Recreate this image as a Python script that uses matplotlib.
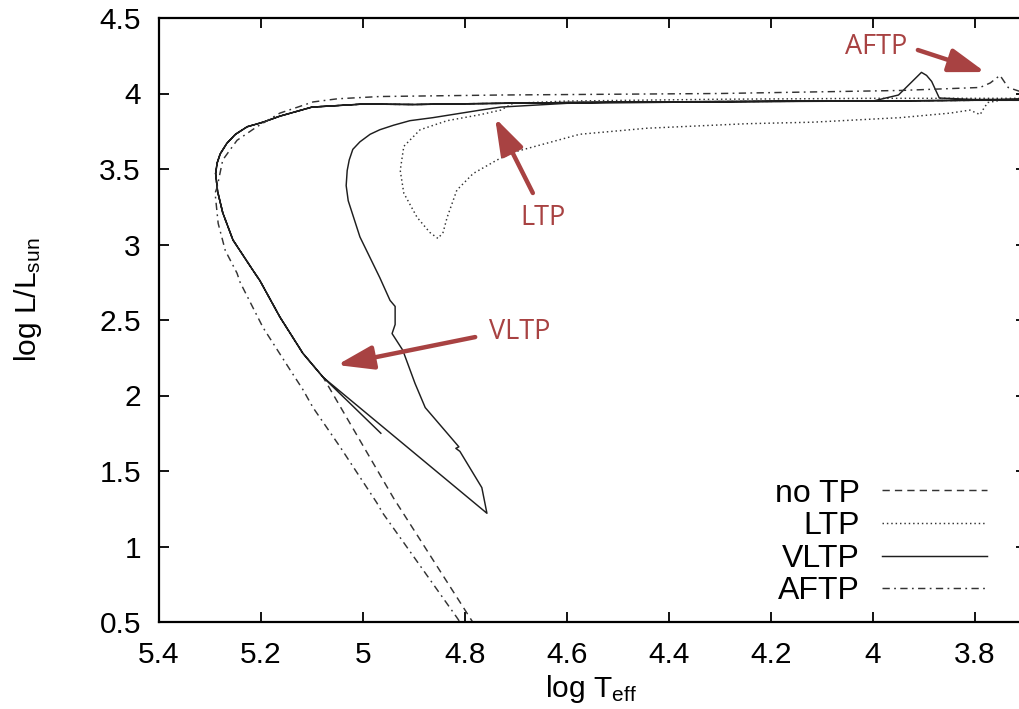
import matplotlib
matplotlib.use("Agg")
import matplotlib.pyplot as plt

plt.rcParams['font.family'] = ['Liberation Sans', 'DejaVu Sans']
plt.rcParams['mathtext.fontset'] = 'custom'
plt.rcParams['mathtext.rm'] = 'Liberation Sans'
plt.rcParams['mathtext.it'] = 'Liberation Sans:italic'

# ---------------- data (log Teff, log L/Lsun) ----------------
# shared path from AGB to the hot turn and down the cooling track
horiz_T = [3.712, 3.80, 4.00, 4.20, 4.40, 4.60, 4.80, 4.90, 5.00, 5.10, 5.163, 5.196, 5.227, 5.250, 5.267,
           5.280, 5.286, 5.289, 5.285, 5.275, 5.255, 5.216, 5.202, 5.163, 5.118, 5.078]
horiz_L = [3.955, 3.955, 3.950, 3.948, 3.945, 3.940, 3.932, 3.927, 3.930, 3.910, 3.850, 3.810, 3.780, 3.730, 3.670,
           3.600, 3.540, 3.470, 3.350, 3.210, 3.030, 2.830, 2.760, 2.520, 2.280, 2.120]

# VLTP loop: from the junction down-right, back up, and back to the AGB
vltp_loop_T = [5.078, 4.757, 4.767, 4.810, 4.818, 4.812, 4.878, 4.898, 4.922, 4.943, 4.937, 4.937, 4.947,
               4.967, 5.006, 5.029, 5.033, 5.031, 5.027, 5.020, 5.006, 4.986, 4.967, 4.940, 4.908,
               4.863, 4.770, 4.730, 4.600, 4.300, 4.000, 3.950, 3.905, 3.895, 3.885, 3.870, 3.800, 3.712]
vltp_loop_L = [2.120, 1.220, 1.390, 1.630, 1.650, 1.660, 1.920, 2.080, 2.300, 2.410, 2.470, 2.590, 2.630,
               2.780, 3.050, 3.290, 3.390, 3.490, 3.560, 3.630, 3.680, 3.730, 3.760, 3.790, 3.820,
               3.840, 3.890, 3.910, 3.935, 3.945, 3.950, 3.990, 4.140, 4.120, 4.080, 3.970, 3.960, 3.962]
vltp_tail_T = [5.078, 4.965]
vltp_tail_L = [2.120, 1.750]

# no thermal pulse: continues straight down the cooling track
notp_tail_T = [5.078, 4.940, 4.785, 4.765]
notp_tail_L = [2.120, 1.320, 0.500, 0.400]

# LTP loop
ltp_T = [3.712, 4.000, 4.300, 4.600, 4.706, 4.730, 4.770, 4.835, 4.888, 4.920, 4.927, 4.920, 4.894,
         4.869, 4.853, 4.843, 4.835, 4.816, 4.784, 4.737, 4.706, 4.575, 4.443, 4.378, 4.247, 4.118,
         3.947, 3.849, 3.810, 3.790, 3.783, 3.775, 3.750, 3.712]
ltp_L = [3.968, 3.968, 3.962, 3.950, 3.935, 3.890, 3.860, 3.820, 3.760, 3.650, 3.490, 3.340, 3.180,
         3.080, 3.040, 3.080, 3.180, 3.360, 3.470, 3.560, 3.610, 3.730, 3.770, 3.780, 3.800, 3.810,
         3.840, 3.870, 3.890, 3.860, 3.900, 3.940, 3.955, 3.962]

# AFTP
aftp_T = [3.700, 3.735, 3.751, 3.770, 3.790, 3.947, 4.300, 4.730, 4.967, 5.050, 5.098, 5.163, 5.208,
          5.247, 5.275, 5.286, 5.290, 5.284, 5.270, 5.247, 5.241, 5.196, 5.143, 5.118, 5.098, 5.045,
          4.973, 4.961, 4.816, 4.800]
aftp_L = [4.000, 4.040, 4.120, 4.070, 4.040, 4.020, 4.000, 3.990, 3.980, 3.965, 3.944, 3.870, 3.780,
          3.690, 3.560, 3.380, 3.340, 3.140, 2.960, 2.810, 2.750, 2.450, 2.170, 2.040, 1.920, 1.660,
          1.290, 1.220, 0.530, 0.450]

legend_labels = ['no TP', 'LTP', 'VLTP', 'AFTP']
xticks = [5.4, 5.2, 5.0, 4.8, 4.6, 4.4, 4.2, 4.0, 3.8]
xtick_labels = ['5.4', '5.2', '5', '4.8', '4.6', '4.4', '4.2', '4', '3.8']
yticks = [0.5, 1, 1.5, 2, 2.5, 3, 3.5, 4, 4.5]
ytick_labels = ['0.5', '1', '1.5', '2', '2.5', '3', '3.5', '4', '4.5']

# annotations: (label, text position, arrow tail, arrow tip)
ann_labels = ['AFTP', 'LTP', 'VLTP']
ann_text_T = [3.994, 4.647, 4.692]
ann_text_L = [4.308, 3.175, 2.420]
ann_tail_T = [3.912, 4.667, 4.780]
ann_tail_L = [4.288, 3.341, 2.387]
ann_tip_T = [3.780, 4.741, 5.051]
ann_tip_L = [4.142, 3.838, 2.202]

# ---------------- figure ----------------
fig = plt.figure(figsize=(10.20, 7.09), dpi=100)
ax = fig.add_axes([159/1020, 1-622/709, (1026-159)/1020, (622-18)/709])

dash_ls = (0, (5.0, 3.5))
dot_ls = (0, (1.0, 2.0))
dashdot_ls = (0, (5.0, 3.0, 1.2, 3.0))
c_line = '#1e1e1e'
c_dash = '#333333'
lw = 1.05

notp_T = horiz_T + notp_tail_T[1:]
notp_L = horiz_L + notp_tail_L[1:]
# full VLTP track: first pass, loop, second pass, short tail
vltp_T = horiz_T + vltp_loop_T[1:] + horiz_T[1:] + vltp_tail_T[1:]
vltp_L = horiz_L + vltp_loop_L[1:] + horiz_L[1:] + vltp_tail_L[1:]
ltp_full_T = ltp_T + horiz_T[1:]
ltp_full_L = ltp_L + horiz_L[1:]

h1, = ax.plot(notp_T, notp_L, color=c_dash, lw=lw, ls=dash_ls)
h2, = ax.plot(ltp_full_T, ltp_full_L, color=c_dash, lw=lw, ls=dot_ls)
h3, = ax.plot(vltp_T, vltp_L, color=c_line, lw=lw)
h4, = ax.plot(aftp_T, aftp_L, color=c_dash, lw=lw, ls=dashdot_ls)

ax.set_xlim(5.4, 3.7)
ax.set_ylim(0.5, 4.5)
ax.set_xticks(xticks)
ax.set_xticklabels(xtick_labels)
ax.set_yticks(yticks)
ax.set_yticklabels(ytick_labels)
ax.tick_params(direction='in', length=7.5, width=1.3, top=True, right=True,
               labelsize=21.5, colors='black')
ax.tick_params(axis='x', pad=14)
ax.tick_params(axis='y', pad=13)
for s in ax.spines.values():
    s.set_linewidth(1.6)

ax.set_xlabel(r'log T$_{\rm eff}$', fontsize=21.5)
ax.set_ylabel(r'log L/L$_{\rm sun}$', fontsize=21.5)
ax.xaxis.set_label_coords(0.498, -0.084)
ax.yaxis.set_label_coords(-0.133, 0.533)

leg = ax.legend([h1, h2, h3, h4], legend_labels, loc='lower right',
                bbox_to_anchor=(0.955, 0.026), frameon=False, markerfirst=False,
                fontsize=23, handlelength=3.3, handletextpad=0.68,
                labelspacing=0.08, borderpad=0, borderaxespad=0)

red = '#a84242'
for lab, tx, ty, ax0, ay0, ax1, ay1 in zip(ann_labels, ann_text_T, ann_text_L,
                                            ann_tail_T, ann_tail_L, ann_tip_T, ann_tip_L):
    ax.text(tx, ty, lab, color=red, fontsize=19.5, ha='center', va='center',
            family=['Open Sans', 'DejaVu Sans'])
    ax.annotate('', xy=(ax1, ay1), xytext=(ax0, ay0),
                arrowprops=dict(arrowstyle='-|>,head_length=1.0,head_width=0.33',
                                color=red, lw=3.2, shrinkA=0, shrinkB=0,
                                mutation_scale=22))

fig.savefig('out.png', dpi=100)
